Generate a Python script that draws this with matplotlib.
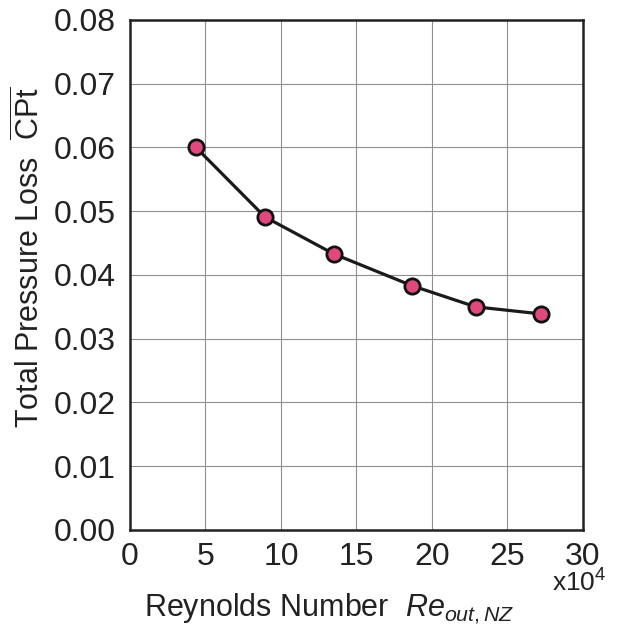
import matplotlib.pyplot as plt

plt.rcParams['font.family'] = ['Liberation Sans', 'DejaVu Sans']
plt.rcParams['mathtext.fontset'] = 'custom'
plt.rcParams['mathtext.rm'] = 'Liberation Sans'
plt.rcParams['mathtext.it'] = 'Liberation Sans:italic'

# Reynolds number (x10^4) vs. averaged total pressure loss coefficient
reynolds = [4.37, 8.94, 13.5, 18.7, 22.9, 27.2]
cpt = [0.0600, 0.0491, 0.0433, 0.0383, 0.0350, 0.0339]

x_ticks = [0, 5, 10, 15, 20, 25, 30]
y_ticks = [0.00, 0.01, 0.02, 0.03, 0.04, 0.05, 0.06, 0.07, 0.08]

fig = plt.figure(figsize=(6.26, 6.36), dpi=100)
ax = fig.add_axes([0.2077, 0.1667, 0.7234, 0.8019])

ax.plot(reynolds, cpt, color='#1a1a1a', lw=2.3, marker='o', ms=11,
        mfc='#e0487e', mec='#111111', mew=2.0, zorder=3)

ax.set_xlim(0, 30)
ax.set_ylim(0, 0.08)
ax.set_xticks(x_ticks)
ax.set_yticks(y_ticks)
ax.set_yticklabels([f'{v:.2f}' for v in y_ticks])
ax.tick_params(length=0, labelsize=23, colors='#222222')
ax.tick_params(axis='x', pad=9)
ax.tick_params(axis='y', pad=10)
ax.grid(True, color='#909090', lw=0.8)
for s in ax.spines.values():
    s.set_linewidth(1.8)
    s.set_color('#222222')

ax.set_xlabel(r'Reynolds Number  $Re_{out,NZ}$', fontsize=22, color='#222222')
ax.set_ylabel(r'Total Pressure Loss  $\overline{\mathrm{CPt}}$', fontsize=22,
              color='#222222')
ax.xaxis.set_label_coords(0.44, -0.122)
ax.yaxis.set_label_coords(-0.184, 0.535)
fig.text(0.925, 0.083, r'x10$^{4}$', fontsize=19, ha='center', va='center',
         color='#222222')

fig.savefig('out.png', dpi=100)
